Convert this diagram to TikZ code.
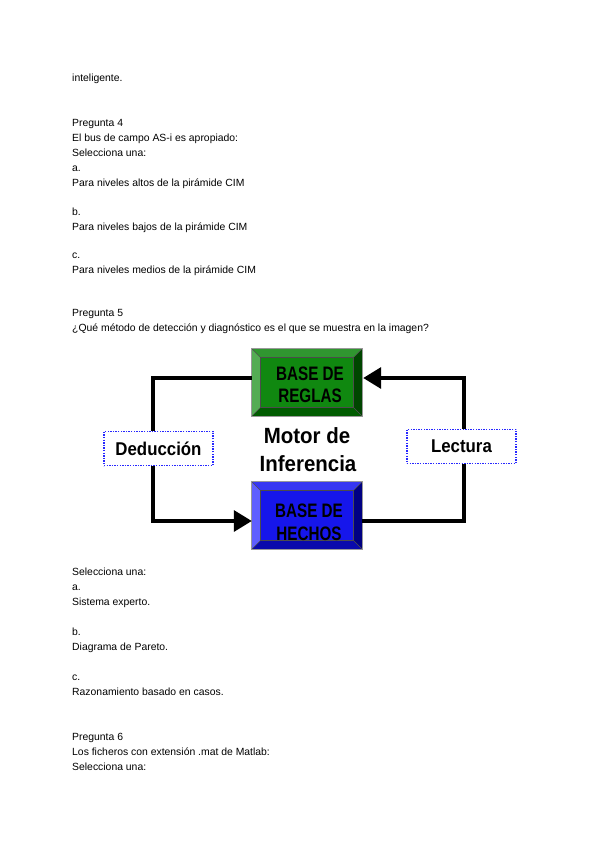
\documentclass[tikz,border=0pt]{standalone}
\usepackage{fontspec}
\setmainfont{Liberation Sans}
\usetikzlibrary{calc,arrows.meta}
\newcommand{\nar}[2]{\scalebox{#1}[1]{#2}}
\definecolor{gface}{RGB}{16,136,16}
\definecolor{gtop}{RGB}{48,150,48}
\definecolor{gleft}{RGB}{84,172,84}
\definecolor{gbot}{RGB}{0,92,0}
\definecolor{gright}{RGB}{0,70,0}
\definecolor{bface}{RGB}{22,22,235}
\definecolor{btop}{RGB}{55,55,242}
\definecolor{bleft}{RGB}{95,95,255}
\definecolor{bbot}{RGB}{10,10,172}
\definecolor{bright}{RGB}{0,0,130}
\definecolor{dotblue}{RGB}{40,40,255}
\newcommand{\bevelbox}[6]{%
  \fill[#3] (#1.north west) -- (#1.north east) -- ($(#1.north east)+(-8.5,8.5)$) -- ($(#1.north west)+(8.5,8.5)$) -- cycle;
  \fill[#4] (#1.north west) -- ($(#1.north west)+(8.5,8.5)$) -- ($(#1.south west)+(8.5,-8.5)$) -- (#1.south west) -- cycle;
  \fill[#5] (#1.south west) -- (#1.south east) -- ($(#1.south east)+(-8.5,-8.5)$) -- ($(#1.south west)+(8.5,-8.5)$) -- cycle;
  \fill[#6] (#1.north east) -- (#1.south east) -- ($(#1.south east)+(-8.5,-8.5)$) -- ($(#1.north east)+(-8.5,8.5)$) -- cycle;
  \fill[#2] ($(#1.north west)+(8.5,8.5)$) rectangle ($(#1.south east)+(-8.5,-8.5)$);
  \draw[black!70,line width=0.6pt] ($(#1.north west)+(8.5,8.5)$) rectangle ($(#1.south east)+(-8.5,-8.5)$);
  \draw[black!70,line width=0.4pt] (#1.north west) -- ($(#1.north west)+(8.5,8.5)$) (#1.north east) -- ($(#1.north east)+(-8.5,8.5)$)
     (#1.south west) -- ($(#1.south west)+(8.5,-8.5)$) (#1.south east) -- ($(#1.south east)+(-8.5,-8.5)$);
  \draw[black!40,line width=0.8pt] (#1.north west) rectangle (#1.south east);
}
\begin{document}
\begin{tikzpicture}[x=1pt,y=-1pt,
  txt/.style={anchor=base west,inner sep=0pt,font=\fontsize{10.4}{12}\selectfont},
  boxnode/.style={inner sep=0pt,minimum width=110pt,minimum height=67pt},
  boxlbl/.style={anchor=base,inner sep=0pt,font=\bfseries\fontsize{19.5}{20}\selectfont},
  motor/.style={anchor=base,inner sep=0pt,font=\bfseries\fontsize{22}{24}\selectfont},
  dotbox/.style={draw=dotblue,line width=1.5pt,dash pattern=on 1.4pt off 1.2pt,fill=white,
     minimum width=109pt,minimum height=34pt,inner sep=0pt,text height=13.3pt,text depth=0pt,
     font=\bfseries\fontsize{18.5}{20}\selectfont},
  conn/.style={line width=3.5pt},
  arr/.style={conn,-{Triangle[length=18pt,width=21pt]}}]
\useasboundingbox[fill=white] (0,0) rectangle (600,848);

% page text
\node[txt] (t1) at (72,82) {inteligente.};
\node[txt] (t2) at (72,127) {Pregunta 4};
\node[txt] (t3) at (72,142) {El bus de campo AS-i es apropiado:};
\node[txt] (t4) at (72,157) {Selecciona una:};
\node[txt] (t5) at (72,171) {a.};
\node[txt] (t6) at (72,186) {Para niveles altos de la pirámide CIM};
\node[txt] (t7) at (72,215) {b.};
\node[txt] (t8) at (72,230) {Para niveles bajos de la pirámide CIM};
\node[txt] (t9) at (72,258) {c.};
\node[txt] (t10) at (72,273) {Para niveles medios de la pirámide CIM};
\node[txt] (t11) at (72,316) {Pregunta 5};
\node[txt] (t12) at (72,331) {¿Qué método de detección y diagnóstico es el que se muestra en la imagen?};
\node[txt] (t13) at (72,575) {Selecciona una:};
\node[txt] (t14) at (72,590) {a.};
\node[txt] (t15) at (72,605) {Sistema experto.};
\node[txt] (t16) at (72,635) {b.};
\node[txt] (t17) at (72,650) {Diagrama de Pareto.};
\node[txt] (t18) at (72,680) {c.};
\node[txt] (t19) at (72,695) {Razonamiento basado en casos.};
\node[txt] (t20) at (72,740) {Pregunta 6};
\node[txt] (t21) at (72,755) {Los ficheros con extensión .mat de Matlab:};
\node[txt] (t22) at (72,770) {Selecciona una:};

% diagram boxes
\node[boxnode] (rules) at (307,382.5) {};
\bevelbox{rules}{gface}{gtop}{gleft}{gbot}{gright}
\node[boxlbl] (r1) at (310,380) {\nar{0.78}{BASE DE}};
\node[boxlbl] (r2) at (310,402) {\nar{0.78}{REGLAS}};

\node[boxnode] (facts) at (307,515.5) {};
\bevelbox{facts}{bface}{btop}{bleft}{bbot}{bright}
\node[boxlbl] (f1) at (309,517) {\nar{0.78}{BASE DE}};
\node[boxlbl] (f2) at (309,540) {\nar{0.78}{HECHOS}};

\node[motor] (m1) at (307,443) {\nar{0.93}{Motor de}};
\node[motor] (m2) at (308,471) {\nar{0.93}{Inferencia}};

\node[dotbox] (ded) at (158.5,448.5) {\nar{0.91}{Deducción}};
\node[dotbox] (lec) at (461.5,446.3) {\nar{0.91}{Lectura}};

% connectors
\draw[conn] ([yshift=4.5pt]rules.west) -| ([xshift=-5.5pt]ded.north);
\draw[arr] ([xshift=-5.5pt]ded.south) |- ([yshift=-5.5pt]facts.west);
\draw[conn] ([yshift=-5.5pt]facts.east) -| ([xshift=2.5pt]lec.south);
\draw[arr] ([xshift=2.5pt]lec.north) |- ([yshift=4.5pt,xshift=1pt]rules.east);
\end{tikzpicture}
\end{document}
